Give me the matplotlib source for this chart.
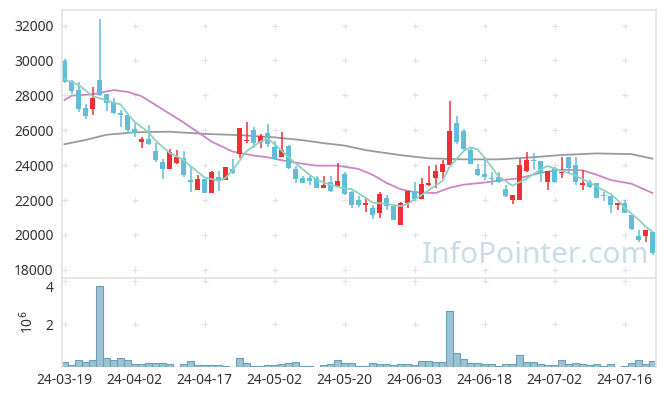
import numpy as np
import matplotlib
matplotlib.use('Agg')
import matplotlib.pyplot as plt

plt.rcParams['font.family'] = ['Noto Sans', 'DejaVu Sans']

# daily candles (trading days from 24-03-19)
opens = [29950, 28800, 28300, 27280, 27230, 28880, 28070, 27600, 26970, 26870,
         26070, 25340, 25500, 24800, 24200, 23800, 24140, 24430, 23150, 22600,
         23180, 22420, 23300, 23160, 23760, 24650, 25360, 26000, 25340, 25820,
         25030, 24480, 25100, 23770, 23270, 23270, 23270, 22700, 23040, 22820,
         23480, 22440, 22000, 21740, 21540, 21240, 22100, 21640, 20590, 21810,
         22540, 22060, 22880, 23260, 23630, 24030, 26410, 25970, 24890, 23780,
         23490, 23260, 23340, 22610, 22000, 22000, 23680, 24300, 24240, 23050,
         23810, 23570, 24480, 24010, 22860, 23050, 22950, 22280, 22250, 21710,
         21850, 21140, 19940, 19940, 20150]
highs = [30100, 28850, 28750, 27500, 28460, 32400, 28080, 27850, 27150, 26900,
         26400, 25630, 26300, 25250, 24350, 24950, 24850, 24800, 23900, 23430,
         23200, 23680, 23650, 23920, 24330, 26150, 26450, 26200, 25800, 26350,
         25400, 25880, 25150, 23960, 23370, 23350, 23380, 23370, 23370, 24130,
         23620, 22530, 22210, 22120, 21740, 22440, 22290, 21680, 21870, 22540,
         23010, 23240, 23930, 24030, 24290, 27660, 26830, 26070, 24960, 24060,
         24450, 23625, 23625, 22860, 22290, 24330, 24770, 24720, 24240, 23680,
         23910, 24480, 24480, 24480, 23720, 23150, 22960, 22480, 22250, 21850,
         22000, 21140, 20280, 20280, 20190]
lows = [28700, 28050, 27060, 26620, 26850, 27950, 27080, 26950, 26200, 25820,
        25630, 24960, 25150, 24150, 23200, 23780, 24060, 23330, 22480, 22580,
        22380, 22400, 22520, 23150, 23500, 24430, 25280, 25000, 24960, 25060,
        24300, 24470, 23800, 23000, 22950, 22850, 22680, 22690, 22470, 22800,
        22280, 21540, 21580, 21330, 20910, 20970, 21450, 20860, 20570, 21540,
        21960, 22040, 22820, 22690, 23210, 24000, 25210, 24880, 24050, 23360,
        23150, 22860, 22960, 22190, 21750, 21990, 23620, 23720, 23050, 22570,
        22960, 23240, 23520, 22860, 22570, 22670, 22100, 21940, 21240, 21430,
        21240, 20280, 19610, 19610, 18870]
closes = [28750, 28250, 27230, 26830, 27850, 28020, 27540, 27000, 26880, 26010,
          25820, 25500, 25210, 24290, 23800, 24730, 24480, 23430, 23040, 23200,
          22420, 23600, 23070, 23870, 23530, 26120, 25460, 25280, 25670, 25220,
          24330, 24860, 23820, 23200, 22990, 23100, 22700, 22850, 22530, 23080,
          22320, 21740, 21740, 21830, 21160, 22350, 21680, 20880, 21810, 22500,
          22060, 22920, 22980, 23680, 24070, 25940, 25310, 24930, 24070, 23450,
          23300, 23220, 23010, 22250, 22290, 24010, 24290, 24260, 23530, 23660,
          23010, 23620, 23810, 23050, 22950, 22730, 22140, 22220, 21710, 21850,
          21275, 20320, 19710, 20280, 18950]
volumes = [0.25, 0.11, 0.34, 0.25, 0.34, 3.75, 0.43, 0.34, 0.43, 0.34,
           0.16, 0.16, 0.20, 0.20, 0.20, 0.16, 0.02, 0.16, 0.29, 0.11,
           0.11, 0.11, 0.11, 0.06, 0.02, 0.43, 0.20, 0.06, 0.06, 0.11,
           0.11, 0.16, 0.20, 0.25, 0.06, 0.06, 0.02, 0.11, 0.16, 0.34,
           0.20, 0.20, 0.06, 0.06, 0.20, 0.16, 0.16, 0.11, 0.16, 0.16,
           0.11, 0.29, 0.29, 0.25, 0.25, 2.62, 0.67, 0.39, 0.20, 0.20,
           0.16, 0.16, 0.06, 0.16, 0.16, 0.57, 0.25, 0.25, 0.16, 0.11,
           0.11, 0.34, 0.16, 0.20, 0.16, 0.11, 0.16, 0.06, 0.16, 0.02,
           0.06, 0.20, 0.34, 0.16, 0.29]

# moving averages (index, price)
ma5_x = [0, 2, 4, 6, 8, 9, 10, 12, 13, 15, 17, 18, 20, 22, 23, 24, 25, 26, 28, 29,
         30, 32, 33, 35, 36, 38, 40, 41, 43, 44, 46, 48, 49, 51, 52, 54, 55, 57, 58, 59,
         60, 62, 64, 66, 68, 69, 70, 72, 73, 75, 76, 78, 79, 80, 82, 83, 84]
ma5_y = [28920, 28600, 27960, 27700, 27480, 26950, 26490, 25880, 25400, 24700,
         24300, 23950, 23290, 23100, 23260, 23700, 24250, 24800, 25350, 25530,
         25200, 24450, 24100, 23450, 23170, 22870, 22660, 22630, 22130, 21850,
         21780, 21650, 21780, 22280, 22550, 23100, 23900, 24800, 25020, 24900,
         24420, 23350, 22820, 23220, 23750, 23950, 23800, 23550, 23400, 23000,
         22770, 22350, 22000, 21550, 20880, 20480, 20190]
ma20_x = [0, 1, 4, 7, 9, 11, 13, 15, 17, 19, 21, 24, 27, 29, 31, 34, 36, 39,
          42, 44, 46, 48, 50, 53, 55, 57, 60, 63, 65, 68, 71, 74, 76, 78, 81, 84]
ma20_y = [27730, 27980, 28060, 28300, 28200, 27950, 27450, 26950, 26450, 25900,
          25350, 24780, 24550, 24450, 24280, 24080, 23970, 23970, 23780, 23450,
          22980, 22620, 22450, 22400, 22700, 22880, 23000, 23160, 23250, 23560,
          23740, 23700, 23450, 23150, 22930, 22400]
ma60_x = [0, 3, 6, 10, 15, 20, 25, 30, 34, 37, 40, 43, 48, 52, 57, 62, 67, 71, 76, 81, 84]
ma60_y = [25200, 25440, 25740, 25880, 25915, 25790, 25720, 25590, 25430, 25260,
          25120, 24860, 24570, 24390, 24330, 24330, 24450, 24580, 24670, 24630, 24370]

tick_pos = [0, 10, 20, 30, 40, 50, 60, 70, 80]
tick_labels = ['24-03-19', '24-04-02', '24-04-17', '24-05-02', '24-05-20',
               '24-06-03', '24-06-18', '24-07-02', '24-07-16']
price_ticks = [18000, 20000, 22000, 24000, 26000, 28000, 30000, 32000]

up_col = '#ee3036'
down_col = '#62bdd8'
frame_col = '#e3e3e3'
text_col = '#333333'

fig = plt.figure(figsize=(6.65, 3.96), dpi=100)
ax = fig.add_axes([62/665, 1-278/396, 594/665, 268/396])
axv = fig.add_axes([62/665, 1-367/396, 594/665, 89/396], sharex=ax)

x = np.arange(len(opens))
o = np.array(opens); c = np.array(closes)
up = c >= o
cols = np.where(up, up_col, down_col)

# grid "+" marks
gx, gy = np.meshgrid(tick_pos, price_ticks)
ax.scatter(gx.ravel(), gy.ravel(), marker='+', s=14, color='#e2e2e2', lw=0.8, zorder=0)
gx2, gy2 = np.meshgrid(tick_pos, [2, 4])
axv.scatter(gx2.ravel(), gy2.ravel(), marker='+', s=14, color='#e2e2e2', lw=0.8, zorder=0)

ax.plot(ma60_x, ma60_y, color='#9a9a9a', lw=1.3, zorder=1)
ax.plot(ma20_x, ma20_y, color='#cc86c4', lw=1.3, zorder=1)
ax.plot(ma5_x, ma5_y, color='#8fd0c0', lw=1.3, zorder=3)

ax.vlines(x, lows, highs, colors=cols, lw=1.1, zorder=2)
body = np.maximum(np.abs(c - o), 60)
ax.bar(x, body, bottom=np.minimum(o, c), width=0.72, color=cols, zorder=2)

ax.text(0.988, 0.03, 'InfoPointer.com', transform=ax.transAxes, ha='right', va='bottom',
        fontsize=21.5, color='#c9dce7', zorder=4)

ax.set_xlim(-0.36, 84.5)
ax.set_ylim(17530, 32890)
ax.set_yticks(price_ticks)
ax.tick_params(axis='x', labelbottom=False, length=0)
ax.tick_params(axis='y', length=0, labelsize=10, colors=text_col, pad=6)

axv.bar(x, volumes, width=1.0, color='#9cc3d4', edgecolor='#6d9fb6', lw=0.8)
axv.set_ylim(0, 4.14)
axv.set_yticks([2, 4])
axv.set_yticklabels(['2', '4'])
axv.tick_params(axis='y', length=0, labelsize=10, colors=text_col, pad=6)
axv.set_xticks(tick_pos)
axv.set_xticklabels(tick_labels)
axv.tick_params(axis='x', length=0, labelsize=10, colors=text_col, pad=4)
axv.set_ylabel('10$^6$', fontsize=10, color=text_col, labelpad=6)
axv.get_yticklabels()[1].set_va('top')

for a in (ax, axv):
    for s in a.spines.values():
        s.set_color(frame_col)
        s.set_linewidth(1.2)
axv.spines['bottom'].set_visible(False)

fig.savefig('out.png', dpi=100)
